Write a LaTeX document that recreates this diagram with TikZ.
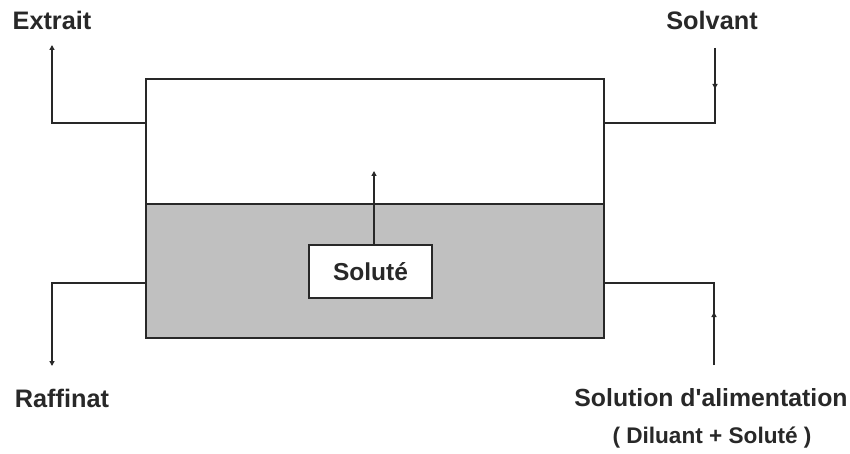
\documentclass[tikz,border=0pt]{standalone}
\usepackage{fontspec}
\setmainfont{Liberation Sans}[Ligatures=TeXOff]
\usetikzlibrary{arrows.meta,decorations.markings}
\definecolor{shade}{RGB}{192,192,192}
\definecolor{ink}{RGB}{40,40,40}
\begin{document}
\begin{tikzpicture}[x=1pt,y=-1pt,
  line width=1.6pt,
  every node/.style={inner sep=0pt},
  vessel/.style={draw=ink, line width=1.8pt, anchor=north west, minimum width=458pt},
  lbl/.style={font=\fontsize{25.3}{30}\selectfont\bfseries, text=ink, anchor=base},
  sublbl/.style={font=\fontsize{22.6}{27}\selectfont\bfseries, text=ink, anchor=base},
  pipe/.style={draw=ink, line width=1.6pt},
  tip/.style={-{Triangle[length=5pt,width=5pt]}},
  midtip/.style={postaction={decorate}, decoration={markings, mark=at position #1 with {\arrow{Triangle[length=5pt,width=5pt]}}}},
  solbox/.style={draw=ink, fill=white, line width=1.8pt, minimum width=123pt, minimum height=53pt, font=\fontsize{24.5}{29}\selectfont\bfseries, text=ink}
]
\useasboundingbox (0,0) rectangle (850,454);
\fill[white] (0,0) rectangle (850,454);
% vessel
\node[vessel, fill=white, minimum height=125pt] (upper) at (145,78) {};
\node[vessel, fill=shade, minimum height=134pt] (lower) at (145,203) {};
\node[solbox] (solute) at (370.5,271.5) {Solut\'e};
% coordinates
\coordinate (ulin) at (145,123);
\coordinate (urin) at (603,123);
\coordinate (llin) at (145,283);
\coordinate (lrin) at (603,283);
\coordinate (extop) at (52,45);
\coordinate (svtop) at (715,48);
\coordinate (rfbot) at (52,366);
\coordinate (sabot) at (714,365);
\coordinate (soltop) at (374,171);
% connectors
\draw[pipe, tip] (ulin) -| (extop);
\draw[pipe, midtip=41pt] (svtop) |- (urin);
\draw[pipe, tip] (llin) -| (rfbot);
\draw[pipe, midtip=53pt] (sabot) |- (lrin);
\draw[pipe, tip] (solute.north -| soltop) -- (soltop);
% labels
\node[lbl] (extrait) at (52,30) {Extrait};
\node[lbl] (solvant) at (712,30) {Solvant};
\node[lbl] (raffinat) at (62,407) {Raffinat};
\node[lbl, font=\fontsize{24.8}{30}\selectfont\bfseries] (alim) at (711,406) {Solution d'alimentation};
\node[sublbl] (dil) at (712,443) {( Diluant + Solut\'e )};
\end{tikzpicture}
\end{document}
